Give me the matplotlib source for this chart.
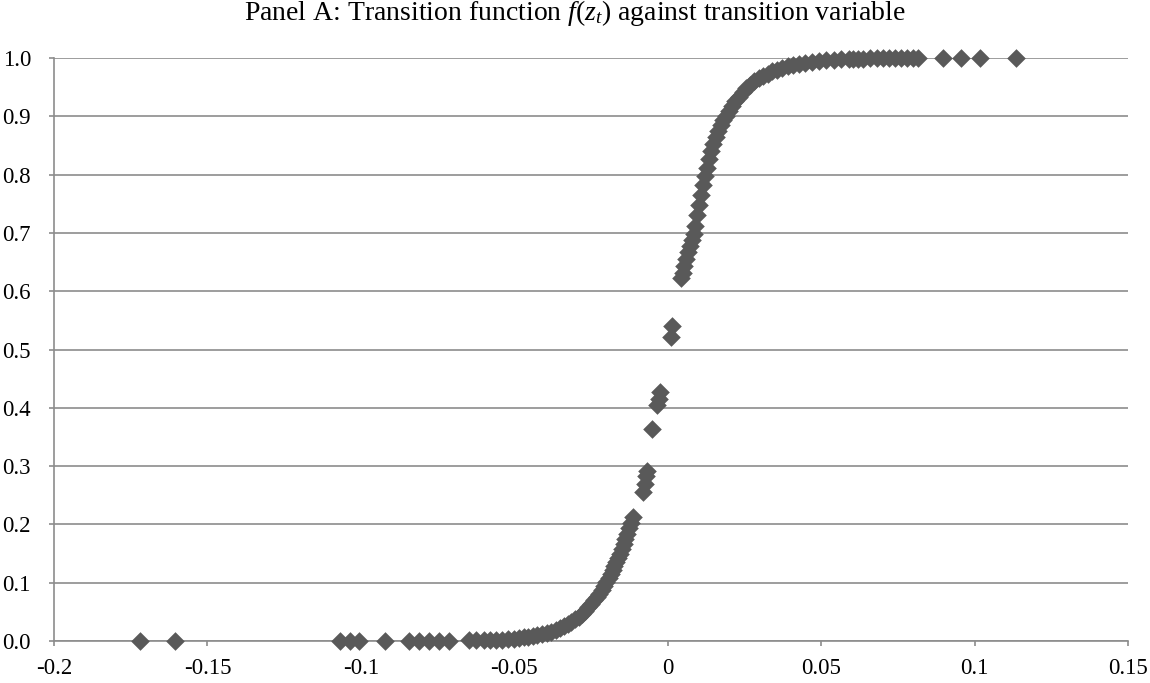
import matplotlib
matplotlib.use("Agg")
import matplotlib.pyplot as plt
import numpy as np

plt.rcParams['font.family'] = ['Liberation Serif', 'DejaVu Serif']
plt.rcParams['mathtext.fontset'] = 'custom'
plt.rcParams['mathtext.rm'] = 'Liberation Serif'
plt.rcParams['mathtext.it'] = 'Liberation Serif:italic'

# transition variable (x) and transition function value (y)
tail_x = [-0.1720, -0.1607, -0.1069, -0.1036, -0.1007, -0.0922,
          -0.0844, -0.0812, -0.0779, -0.0746, -0.0714]
tail_y = [0.0, 0.0, 0.0, 0.0, 0.0, 0.0,
          0.0, 0.0, 0.0, 0.0, 0.0]

low_x = [-0.0649, -0.0625, -0.0600, -0.0580, -0.0560, -0.0540, -0.0520, -0.0500,
         -0.0485, -0.0470, -0.0455, -0.0440, -0.0425, -0.0410, -0.0395, -0.0380,
         -0.0365, -0.0350, -0.0338, -0.0326, -0.0314, -0.0302, -0.0290, -0.0280,
         -0.0270, -0.0260, -0.0250, -0.0240, -0.0232, -0.0224, -0.0216, -0.0208,
         -0.0200, -0.0193, -0.0186, -0.0180, -0.0174, -0.0168, -0.0162, -0.0156,
         -0.0150, -0.0144, -0.0138, -0.0132, -0.0126, -0.0120, -0.0114]
low_y = [0.001, 0.001, 0.001, 0.002, 0.002, 0.002, 0.003, 0.004,
         0.005, 0.006, 0.007, 0.008, 0.010, 0.012, 0.014, 0.016,
         0.019, 0.022, 0.025, 0.029, 0.033, 0.037, 0.042, 0.047,
         0.052, 0.058, 0.064, 0.070, 0.075, 0.081, 0.088, 0.094,
         0.101, 0.108, 0.115, 0.121, 0.128, 0.135, 0.142, 0.150,
         0.158, 0.166, 0.175, 0.184, 0.193, 0.203, 0.213]

mid_x = [-0.0080, -0.0075, -0.0070, -0.0068, -0.0050, -0.0035, -0.0030, -0.0027,
         0.0010, 0.0015]
mid_y = [0.255, 0.270, 0.283, 0.292, 0.363, 0.405, 0.415, 0.427,
         0.522, 0.540]

high_x = [0.0042, 0.0048, 0.0054, 0.0060, 0.0066, 0.0072, 0.0078, 0.0084,
          0.0090, 0.0096, 0.0102, 0.0108, 0.0114, 0.0120, 0.0127, 0.0134,
          0.0141, 0.0148, 0.0156, 0.0164, 0.0172, 0.0180, 0.0190, 0.0200,
          0.0210, 0.0220, 0.0232, 0.0244, 0.0256, 0.0268, 0.0282, 0.0296,
          0.0310, 0.0325, 0.0340, 0.0356, 0.0372, 0.0390, 0.0408, 0.0428,
          0.0448, 0.0470, 0.0492, 0.0515, 0.0540, 0.0565, 0.0590, 0.0605,
          0.0619, 0.0635, 0.0660, 0.0680, 0.0700, 0.0720, 0.0740, 0.0760,
          0.0780, 0.0800, 0.0815, 0.0896, 0.0955, 0.1017, 0.1134]
high_y = [0.622, 0.632, 0.643, 0.655, 0.667, 0.678, 0.688, 0.698,
          0.712, 0.730, 0.748, 0.765, 0.782, 0.797, 0.812, 0.826,
          0.840, 0.852, 0.864, 0.875, 0.885, 0.893, 0.901, 0.910,
          0.918, 0.926, 0.934, 0.941, 0.948, 0.954, 0.960, 0.965,
          0.969, 0.973, 0.977, 0.980, 0.983, 0.986, 0.988, 0.990,
          0.992, 0.994, 0.995, 0.996, 0.997, 0.998, 0.998, 0.999,
          0.999, 0.999, 1.000, 1.000, 1.000, 1.000, 1.000, 1.000,
          1.000, 1.000, 1.000, 1.000, 1.000, 1.000, 1.000]

x_ticks = [-0.2, -0.15, -0.1, -0.05, 0, 0.05, 0.1, 0.15]
x_labels = ["-0.2", "-0.15", "-0.1", "-0.05", "0", "0.05", "0.1", "0.15"]
y_ticks = [0.0, 0.1, 0.2, 0.3, 0.4, 0.5, 0.6, 0.7, 0.8, 0.9, 1.0]

x = np.array(tail_x + low_x + mid_x + high_x)
y = np.array(tail_y + low_y + mid_y + high_y)

grid_col = "#8c8c8c"

fig = plt.figure(figsize=(11.5, 6.83), dpi=100)
ax = fig.add_axes([0.047, 0.0615, 0.934, 0.8535])

ax.scatter(x, y, marker='D', s=90, color="#595959", linewidths=0,
           zorder=3, clip_on=False)

ax.set_xlim(-0.2, 0.15)
ax.set_ylim(0, 1)
ax.set_xticks(x_ticks)
ax.set_xticklabels(x_labels)
ax.set_yticks(y_ticks)
ax.set_yticklabels(["%.1f" % v for v in y_ticks])

ax.yaxis.grid(True, color=grid_col, linewidth=1.2)
ax.set_axisbelow(True)
for side in ['top', 'right']:
    ax.spines[side].set_visible(False)
for side in ['left', 'bottom']:
    ax.spines[side].set_color(grid_col)
    ax.spines[side].set_linewidth(1.2)

ax.tick_params(axis='both', colors=grid_col, labelcolor='black',
               labelsize=16.5, length=3.6, width=1.2, direction='out')
ax.tick_params(axis='x', pad=8.5)
ax.tick_params(axis='y', pad=13)

fig.text(0.5, 0.981,
         r"Panel A: Transition function $\mathit{f(z}_{\mathit{t}}\mathit{)}$ against transition variable",
         ha='center', va='center', fontsize=20)

fig.savefig("out.png", dpi=100)
